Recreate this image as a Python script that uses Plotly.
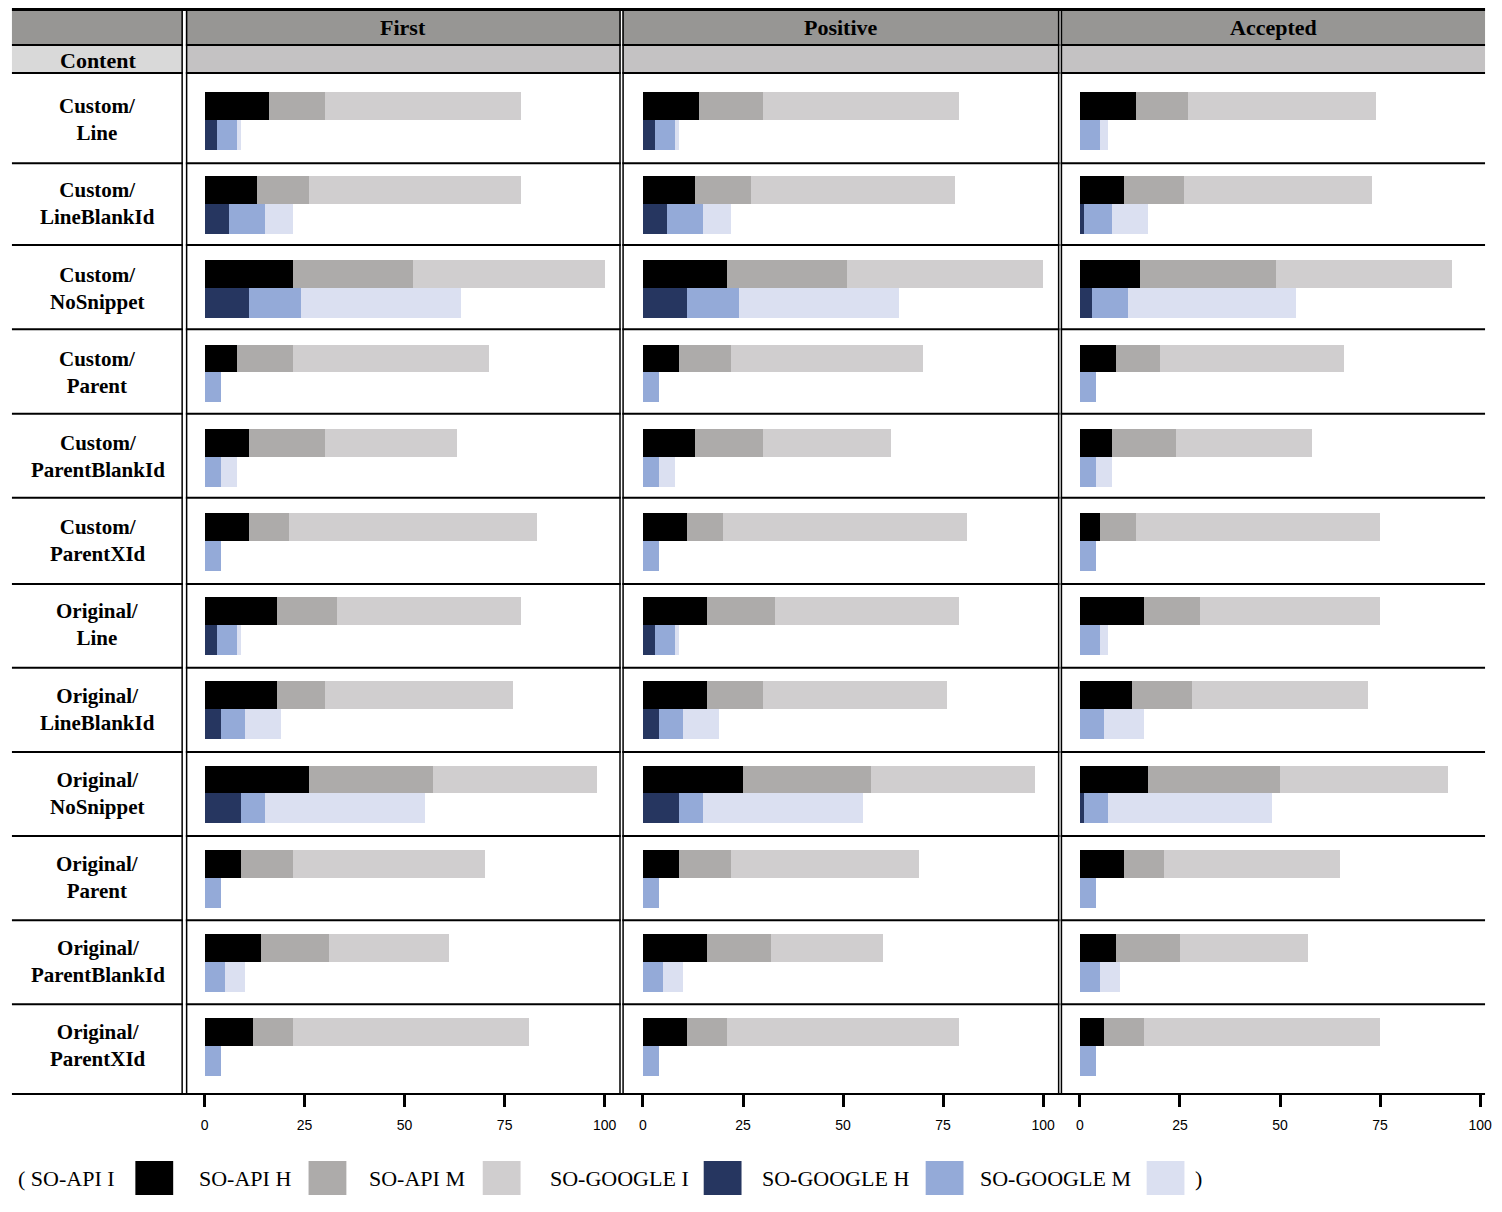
import numpy as np
import plotly.graph_objects as go

W, H = 1502, 1212


def px(x):
    return x / W


def py(y):
    return 1 - y / H


# ---------------- data ----------------
rows = ["Custom/Line", "Custom/LineBlankId", "Custom/NoSnippet", "Custom/Parent",
        "Custom/ParentBlankId", "Custom/ParentXId", "Original/Line", "Original/LineBlankId",
        "Original/NoSnippet", "Original/Parent", "Original/ParentBlankId", "Original/ParentXId"]
panels = ["First", "Positive", "Accepted"]
series_names = ["SO-API I", "SO-API H", "SO-API M", "SO-GOOGLE I", "SO-GOOGLE H", "SO-GOOGLE M"]
tick_values = [0, 25, 50, 75, 100]

# First
first_api_i = [16, 13, 22, 8, 11, 11, 18, 18, 26, 9, 14, 12]
first_api_h = [14, 13, 30, 14, 19, 10, 15, 12, 31, 13, 17, 10]
first_api_m = [49, 53, 48, 49, 33, 62, 46, 47, 41, 48, 30, 59]
first_google_i = [3, 6, 11, 0, 0, 0, 3, 4, 9, 0, 0, 0]
first_google_h = [5, 9, 13, 4, 4, 4, 5, 6, 6, 4, 5, 4]
first_google_m = [1, 7, 40, 0, 4, 0, 1, 9, 40, 0, 5, 0]

# Positive
positive_api_i = [14, 13, 21, 9, 13, 11, 16, 16, 25, 9, 16, 11]
positive_api_h = [16, 14, 30, 13, 17, 9, 17, 14, 32, 13, 16, 10]
positive_api_m = [49, 51, 49, 48, 32, 61, 46, 46, 41, 47, 28, 58]
positive_google_i = [3, 6, 11, 0, 0, 0, 3, 4, 9, 0, 0, 0]
positive_google_h = [5, 9, 13, 4, 4, 4, 5, 6, 6, 4, 5, 4]
positive_google_m = [1, 7, 40, 0, 4, 0, 1, 9, 40, 0, 5, 0]

# Accepted
accepted_api_i = [14, 11, 15, 9, 8, 5, 16, 13, 17, 11, 9, 6]
accepted_api_h = [13, 15, 34, 11, 16, 9, 14, 15, 33, 10, 16, 10]
accepted_api_m = [47, 47, 44, 46, 34, 61, 45, 44, 42, 44, 32, 59]
accepted_google_i = [0, 1, 3, 0, 0, 0, 0, 0, 1, 0, 0, 0]
accepted_google_h = [5, 7, 9, 4, 4, 4, 5, 6, 6, 4, 5, 4]
accepted_google_m = [2, 9, 42, 0, 4, 0, 2, 10, 41, 0, 5, 0]

panel_data = [
    [first_api_i, first_api_h, first_api_m, first_google_i, first_google_h, first_google_m],
    [positive_api_i, positive_api_h, positive_api_m, positive_google_i, positive_google_h, positive_google_m],
    [accepted_api_i, accepted_api_h, accepted_api_m, accepted_google_i, accepted_google_h, accepted_google_m],
]

# ---------------- style ----------------
colors = ["#000000", "#adabaa", "#d0cecf", "#263660", "#94aad8", "#dbe0f1"]
SERIF = "Liberation Serif, Times New Roman, serif"
SANS = "Liberation Sans, Arial, sans-serif"

panel_px = [(187.5, 622.9), (626.0, 1063.6), (1066.4, 1492.0)]
zero_px = [205.5, 646.0, 1085.0]
PXU = 4.02  # pixels per unit on x

TOP_ROW_PX = 73
BOTTOM_PX = 1094
ROW0_PX = 119.7
ROW_STEP = 84.2
y_range = [(BOTTOM_PX - ROW0_PX) / ROW_STEP, (TOP_ROW_PX - ROW0_PX) / ROW_STEP]

api_offset, api_width = (92 - ROW0_PX) / ROW_STEP, (ROW0_PX - 92) / ROW_STEP
g_offset, g_width = 0.0, 30.0 / ROW_STEP

fig = go.Figure()

for k, series in enumerate(panel_data):
    xr = "x" if k == 0 else f"x{k+1}"
    yr = "y" if k == 0 else f"y{k+1}"
    api_base = np.zeros(len(rows))
    g_base = np.zeros(len(rows))
    for j, vals in enumerate(series):
        vals = np.array(vals, dtype=float)
        if j < 3:
            base = api_base.copy()
            api_base += vals
            off, wid = api_offset, api_width
        else:
            base = g_base.copy()
            g_base += vals
            off, wid = g_offset, g_width
        fig.add_trace(go.Bar(
            x=vals, y=rows, base=base, orientation="h",
            offset=off, width=wid,
            marker=dict(color=colors[j], line=dict(width=0)),
            name=series_names[j], showlegend=False,
            xaxis=xr, yaxis=yr, hoverinfo="skip",
        ))

layout = dict(
    width=W, height=H,
    margin=dict(l=0, r=0, t=0, b=0),
    paper_bgcolor="white", plot_bgcolor="rgba(0,0,0,0)",
    barmode="overlay",
    bargap=0,
)

for k in range(3):
    x0, x1 = panel_px[k]
    z = zero_px[k]
    xa = dict(
        domain=[px(x0), px(x1)],
        range=[-(z - x0) / PXU, (x1 - z) / PXU],
        tickvals=tick_values, ticktext=[str(v) for v in tick_values],
        ticks="outside", ticklen=12, tickwidth=3, tickcolor="black",
        showgrid=False, zeroline=False, showline=False,
        tickfont=dict(family=SANS, size=14, color="black"),
        ticklabelstandoff=6,
        anchor="y" if k == 0 else f"y{k+1}",
        fixedrange=True,
    )
    ya = dict(
        domain=[py(BOTTOM_PX), py(TOP_ROW_PX)],
        type="category", categoryorder="array", categoryarray=rows,
        range=y_range,
        showticklabels=False, showgrid=False, zeroline=False, showline=False, ticks="",
        anchor="x" if k == 0 else f"x{k+1}",
        fixedrange=True,
    )
    layout["xaxis" if k == 0 else f"xaxis{k+1}"] = xa
    layout["yaxis" if k == 0 else f"yaxis{k+1}"] = ya

fig.update_layout(**layout)

shapes = []


def rect(x0, y0, x1, y1, fill):
    shapes.append(dict(type="rect", xref="paper", yref="paper",
                       x0=px(x0), x1=px(x1), y0=py(y1), y1=py(y0),
                       fillcolor=fill, line=dict(width=0), layer="above"))


def hline(y, x0, x1, w=2, color="black"):
    shapes.append(dict(type="line", xref="paper", yref="paper",
                       x0=px(x0), x1=px(x1), y0=py(y), y1=py(y),
                       line=dict(color=color, width=w), layer="above"))


def vline(x, y0, y1, w=1.5, color="black"):
    shapes.append(dict(type="line", xref="paper", yref="paper",
                       x0=px(x), x1=px(x), y0=py(y0), y1=py(y1),
                       line=dict(color=color, width=w), layer="above"))


LEFT, RIGHT = 12, 1492
# header fills
rect(LEFT, 9, RIGHT, 45, "#979694")
rect(LEFT, 45, 183, 73, "#d9d9d9")
rect(187.5, 45, RIGHT, 73, "#c4c2c3")

# horizontal lines
hline(9.5, LEFT, RIGHT, w=3)
hline(45, LEFT, RIGHT, w=2)
hline(73, LEFT, RIGHT, w=2)
for yb in [163.3, 245, 329.3, 413.7, 497.7, 584, 667.7, 752, 836, 920.3, 1004.3]:
    hline(yb, LEFT, RIGHT, w=2)
hline(BOTTOM_PX, LEFT, RIGHT, w=2)

# double vertical separators
for a, b in [(183, 187.5), (622.9, 626.0), (1063.6, 1066.4)]:
    rect(a + 0.8, 11, b - 0.8, BOTTOM_PX - 1, "white")
    vline(a, 8, BOTTOM_PX)
    vline(b, 8, BOTTOM_PX)

annotations = []
# panel headers
for k, name in enumerate(panels):
    x0, x1 = panel_px[k]
    annotations.append(dict(text=f"<b>{name}</b>", xref="paper", yref="paper",
                            x=px((x0 + x1) / 2), y=py(27), xanchor="center", yanchor="middle",
                            showarrow=False, font=dict(family=SERIF, size=22, color="black")))
annotations.append(dict(text="<b>Content</b>", xref="paper", yref="paper",
                        x=px(98), y=py(60), xanchor="center", yanchor="middle",
                        showarrow=False, font=dict(family=SERIF, size=22, color="black")))
# row labels
for r in rows:
    annotations.append(dict(text="<b>" + r.replace("/", "/<br>") + "</b>", xref="paper", yref="y",
                            x=px(98), y=r, xanchor="center", yanchor="middle", align="center",
                            showarrow=False, font=dict(family=SERIF, size=21, color="black")))

# legend (text followed by swatch)
legend_text_x = [16, 198, 369, 551, 764, 983]
swatch_x = [136, 310, 485, 707, 930, 1152]
for j, name in enumerate(series_names):
    label = ("( " if j == 0 else "") + name
    annotations.append(dict(text=label, xref="paper", yref="paper",
                            x=px(legend_text_x[j]), y=py(1178), xanchor="left", yanchor="middle",
                            showarrow=False, font=dict(family=SERIF, size=22, color="black")))
    rect(swatch_x[j], 1161, swatch_x[j] + 38, 1195, colors[j])
annotations.append(dict(text=")", xref="paper", yref="paper",
                        x=px(1199), y=py(1178), xanchor="left", yanchor="middle",
                        showarrow=False, font=dict(family=SERIF, size=22, color="black")))

fig.update_layout(shapes=shapes, annotations=annotations)

fig.write_html("out.html", config={"displayModeBar": False},
               post_script="document.body.style.margin='0px';")
